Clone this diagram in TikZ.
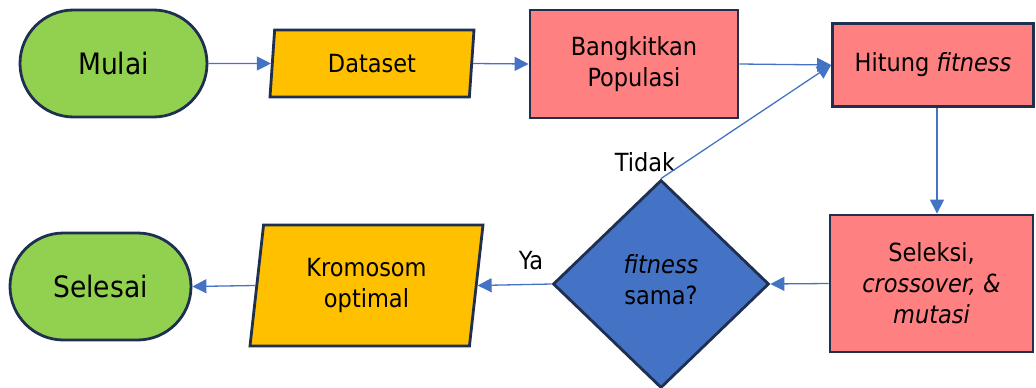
\documentclass[tikz,border=0pt]{standalone}
\usepackage{fontspec}
\setmainfont{DejaVu Sans Condensed}
\usetikzlibrary{shapes.geometric,shapes.misc,arrows.meta}
\definecolor{gr}{HTML}{92D050}
\definecolor{yel}{HTML}{FFC000}
\definecolor{sal}{HTML}{FF8080}
\definecolor{blu}{HTML}{4472C4}
\definecolor{bd}{HTML}{1F2F50}
\definecolor{ac}{HTML}{4472C4}
\tikzset{
  base/.style={draw=bd, line width=2.8pt, align=center, inner sep=0pt,
    font=\fontsize{25}{31}\selectfont},
  term/.style={base, rounded rectangle, fill=gr, font=\fontsize{29.5}{35}\selectfont},
  io/.style={base, trapezium, trapezium left angle=76, trapezium right angle=104,
    trapezium stretches body, fill=yel},
  proc/.style={base, rectangle, fill=sal},
  dec/.style={base, diamond, fill=blu},
  lbl/.style={inner sep=0pt, font=\fontsize{25}{31}\selectfont},
  arr/.style={draw=ac, line width=1.3pt, -{Triangle[length=14pt,width=14pt]}}
}
\begin{document}
\begin{tikzpicture}[x=1pt,y=-1pt]
\useasboundingbox (0,0) rectangle (1036,388);
\node[term, minimum width=187pt, minimum height=107pt] (mulai) at (113.5,63.5) {Mulai};
\node[io, minimum width=204pt, minimum height=67pt] (data) at (372,63.5) {Dataset};
\node[proc, minimum width=208pt, minimum height=108pt] (bang) at (634,64) {Bangkitkan\\Populasi};
\node[proc, minimum width=201pt, minimum height=83pt] (hit) at (933,65) {Hitung \textit{fitness}};
\node[proc, minimum width=203pt, minimum height=137pt] (sel) at (931.5,283.5) {Seleksi,\\\textit{crossover, \&}\\\textit{mutasi}};
\node[dec, minimum width=216pt, minimum height=208pt, text depth=10pt] (dia) at (661,284) {\textit{fitness}\\sama?};
\node[io, minimum width=233pt, minimum height=121pt] (krom) at (366.5,285.5) {Kromosom\\optimal};
\node[term, minimum width=181pt, minimum height=107pt] (selesai) at (100.5,286.5) {Selesai};
\node[lbl] (tidak) at (645,162) {Tidak};
\node[lbl] (ya) at (531,261) {Ya};
\draw[arr] (mulai.east) -- (data.west);
\draw[arr] (data.east) -- (bang.west);
\draw[arr] (bang.east) -- (hit.west);
\draw[arr] ([xshift=4pt]hit.south) -- ([xshift=4pt]hit.south |- sel.north);
\draw[arr] (sel.west) -- (dia.east);
\draw[arr] (dia.north) -- (hit.west);
\draw[arr] (dia.west) -- (krom.east);
\draw[arr] (krom.west) -- (selesai.east);
\end{tikzpicture}
\end{document}
